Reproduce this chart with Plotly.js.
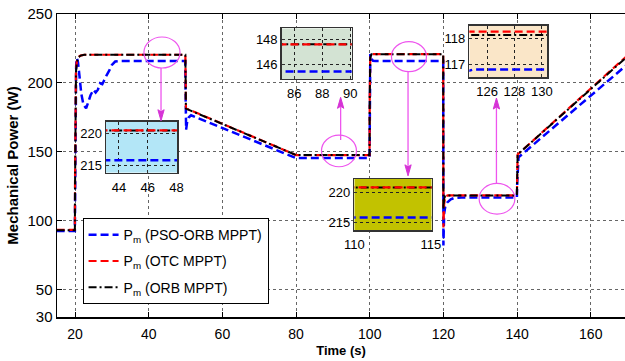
<!DOCTYPE html>
<html><head><meta charset="utf-8">
<script src="https://cdn.plot.ly/plotly-3.0.1.min.js"></script>
<style>html,body{margin:0;padding:0;background:#fff}#chart{width:625px;height:361px}</style>
</head><body><div id="chart"></div>
<script>
// ---- data ----
const seriesNames = ['P<sub>m</sub> (PSO-ORB MPPT)', 'P<sub>m</sub> (OTC MPPT)', 'P<sub>m</sub> (ORB MPPT)'];

const tPso = [15, 19.95, 20.0, 20.15, 20.3, 20.5, 20.8, 21.2, 21.7, 22.3, 23.0, 23.6, 24.2, 25.0, 25.6, 26.2, 26.8, 27.4, 28.0, 28.6, 29.3, 30.0, 30.9, 32.0,
  49.9, 50.0, 50.15, 50.4, 50.9, 51.5, 80, 99.95, 100.05, 100.15, 100.4, 100.9, 101.6, 119.95, 120.0, 120.2, 120.5, 121.0, 122.0, 123.0, 125.0,
  139.95, 140.05, 140.4, 170];
const pPso = [92.5, 92.5, 110, 190, 212, 218, 215, 205, 192, 184, 181.5, 186, 191, 195, 193, 195, 199.7, 199, 203, 205.7, 209, 213, 215.5, 215.8,
  215.8, 190, 166, 171, 175, 176.5, 145.4, 145.4, 190, 221, 218, 216, 215.8, 215.8, 82, 105, 110, 113, 115.5, 116.5, 116.8,
  116.8, 128, 146, 213.5];

const tOtc = [15, 19.95, 20.0, 20.1, 20.25, 20.5, 20.9, 21.5, 22.5, 49.95, 50.0, 50.1, 80, 99.95, 100.0, 100.15, 100.5,
  119.95, 120.0, 120.2, 120.5, 121.2, 139.95, 140.0, 140.15, 170];
const pOtc = [93.2, 93.2, 130, 195, 210, 216, 218.8, 219.8, 220.4, 220.4, 200, 181.5, 147.6, 147.6, 190, 218.5, 220.8,
  220.8, 95, 112, 117.5, 118.26, 118.26, 135, 148, 220];

const tOrb = [15, 19.95, 20.0, 20.1, 20.25, 20.5, 20.9, 21.5, 22.5, 49.95, 50.0, 50.1, 80, 99.95, 100.0, 100.15, 100.5,
  119.95, 120.0, 120.2, 120.5, 121.2, 139.95, 140.0, 140.15, 170];
const pOrb = [93, 93, 125, 192, 208, 215, 218.5, 219.8, 220.4, 220.4, 200, 181.3, 147.6, 147.6, 190, 218.5, 220.8,
  220.8, 108, 116, 117.8, 118.13, 118.13, 135, 148, 219.3];

const xTicks = [20, 40, 60, 80, 100, 120, 140, 160];
const yTicks = [30, 50, 100, 150, 200, 250];

// insets: x range, y range, x ticks, y ticks
const insetXRanges = [[43.1, 48.05], [85.1, 90.1], [110, 115.05], [124.7, 130.4]];
const insetYRanges = [[213.9, 221.7], [144.8, 148.9], [213.7, 222.2], [116.5, 118.48]];
const insetXTicks = [[44, 46, 48], [86, 88, 90], [110, 115], [126, 128, 130]];
const insetYTicks = [[215, 220], [146, 148], [215, 220], [117, 118]];
const insetColors = ['#b3e6f7', '#d3e3d3', '#c2c200', '#fae6c8'];
const insetXDomains = [[0.0863, 0.2118], [0.3956, 0.5188], [0.5234, 0.6597], [0.7259, 0.8632]];
const insetYDomains = [[0.4762, 0.6436], [0.7855, 0.9528], [0.2871, 0.4554], [0.7911, 0.9604]];

// highlight ellipses [t0,t1,p0,p1] and arrows [t, tipP, tailP]
const ellipses = [[38.7, 48.5, 210.8, 233.3], [86.9, 96.4, 139.1, 162.1], [105.9, 115.4, 208.1, 229.9], [129.7, 139.4, 104.7, 127.0]];
const arrows = [[43.34, 172.5, 210.8], [92.1, 189.5, 158.5], [110.4, 132.5, 208.1], [134.4, 189.0, 127.3]];

// ---- build ----
const FONT = 'Liberation Sans, Arial, Helvetica, sans-serif';
const styles = [
  {color: '#0000ff', width: 2.5, dash: '8px,4px'},
  {color: '#ff0000', width: 2.2, dash: '8px,4px'},
  {color: '#000000', width: 2.0, dash: '8px,3px,2px,3px'}
];
const tAll = [tPso, tOtc, tOrb];
const pAll = [pPso, pOtc, pOrb];

const traces = [];
for (let i = 0; i < 3; i++) {
  traces.push({x: tAll[i], y: pAll[i], type: 'scatter', mode: 'lines', name: seriesNames[i],
    legendgroup: 'g' + i, line: styles[i], hoverinfo: 'skip'});
}
const insetOrder = [0, 2, 1];
for (let k = 0; k < 4; k++) {
  for (const i of insetOrder) {
    traces.push({x: tAll[i], y: pAll[i], type: 'scatter', mode: 'lines', showlegend: false,
      legendgroup: 'g' + i, line: styles[i], xaxis: 'x' + (k + 2), yaxis: 'y' + (k + 2), hoverinfo: 'skip'});
  }
}

const layout = {
  width: 625, height: 361,
  margin: {l: 57, r: 0, t: 14, b: 44},
  paper_bgcolor: '#ffffff', plot_bgcolor: '#ffffff',
  font: {family: FONT, color: '#000', size: 14},
  showlegend: true,
  legend: {x: 0.045, y: 0.326, xanchor: 'left', yanchor: 'top', bgcolor: '#ffffff',
    bordercolor: '#000', borderwidth: 1, font: {size: 14, family: FONT}, tracegroupgap: 5, traceorder: 'grouped'},
  xaxis: {range: [15.1, 169.3], tickvals: xTicks, ticks: 'inside', ticklen: 5, tickcolor: '#000',
    showline: true, linecolor: '#000', linewidth: 1.5, mirror: 'ticks', showgrid: true, gridcolor: '#666',
    griddash: 'dot', gridwidth: 1, zeroline: false, automargin: false, tickfont: {size: 14}, ticklabelstandoff: 4,
    title: {text: '<b>Time (s)</b>', font: {size: 13}, standoff: 4}},
  yaxis: {range: [30, 250], tickvals: yTicks, ticks: 'inside', ticklen: 5, tickcolor: '#000',
    showline: true, linecolor: '#000', linewidth: 1.5, mirror: false, showgrid: true, gridcolor: '#666',
    griddash: 'dot', gridwidth: 1, zeroline: false, automargin: false, tickfont: {size: 15},
    title: {text: '<b>Mechanical Power (W)</b>', font: {size: 15}, standoff: 5}},
  shapes: []
};

for (let k = 0; k < 4; k++) {
  const n = k + 2;
  layout['xaxis' + n] = {domain: insetXDomains[k], anchor: 'y' + n, range: insetXRanges[k], tickvals: insetXTicks[k],
    ticks: 'inside', ticklen: 3, tickcolor: '#333', showline: true, mirror: true, linecolor: '#333', linewidth: 1.5,
    showgrid: true, gridcolor: '#222', griddash: 'dot', gridwidth: 1, zeroline: false, automargin: false,
    tickfont: {size: 13}, ticklabelstandoff: 2};
  layout['yaxis' + n] = {domain: insetYDomains[k], anchor: 'x' + n, range: insetYRanges[k], tickvals: insetYTicks[k],
    ticks: 'inside', ticklen: 3, tickcolor: '#333', showline: true, mirror: true, linecolor: '#333', linewidth: 1.5,
    showgrid: true, gridcolor: '#222', griddash: 'dot', gridwidth: 1, zeroline: false, automargin: false,
    tickfont: {size: 13}};
  layout.shapes.push({type: 'rect', xref: 'x' + n, yref: 'y' + n,
    x0: insetXRanges[k][0], x1: insetXRanges[k][1], y0: insetYRanges[k][0], y1: insetYRanges[k][1],
    fillcolor: insetColors[k], line: {width: 0}, layer: 'below'});
}

const MAG = '#ee55ee';
for (const e of ellipses) {
  layout.shapes.push({type: 'circle', xref: 'x', yref: 'y', x0: e[0], x1: e[1], y0: e[2], y1: e[3],
    line: {color: MAG, width: 1.2}, layer: 'above'});
}
// arrows drawn as shapes: shaft line + filled head (head size ~6px wide, 9px long)
const HW = 0.85;  // half width in x units (~3px)
const HL = 6.5;   // head length in y units (~9px)
for (const a of arrows) {
  const dir = a[1] < a[2] ? 1 : -1; // +1 means tip is below tail
  const base = a[1] + dir * HL;
  layout.shapes.push({type: 'line', xref: 'x', yref: 'y', x0: a[0], x1: a[0], y0: a[2], y1: base,
    line: {color: MAG, width: 1.3}, layer: 'above'});
  layout.shapes.push({type: 'path', xref: 'x', yref: 'y', layer: 'above',
    path: 'M' + (a[0] - HW) + ',' + (base + dir * 1.5) + ' L' + a[0] + ',' + base + ' L' + (a[0] + HW) + ',' + (base + dir * 1.5) +
      ' L' + a[0] + ',' + a[1] + ' Z',
    fillcolor: '#d633d6', line: {color: '#d633d6', width: 1}});
}

Plotly.newPlot('chart', traces, layout, {staticPlot: true, displayModeBar: false});
</script>
</body></html>
